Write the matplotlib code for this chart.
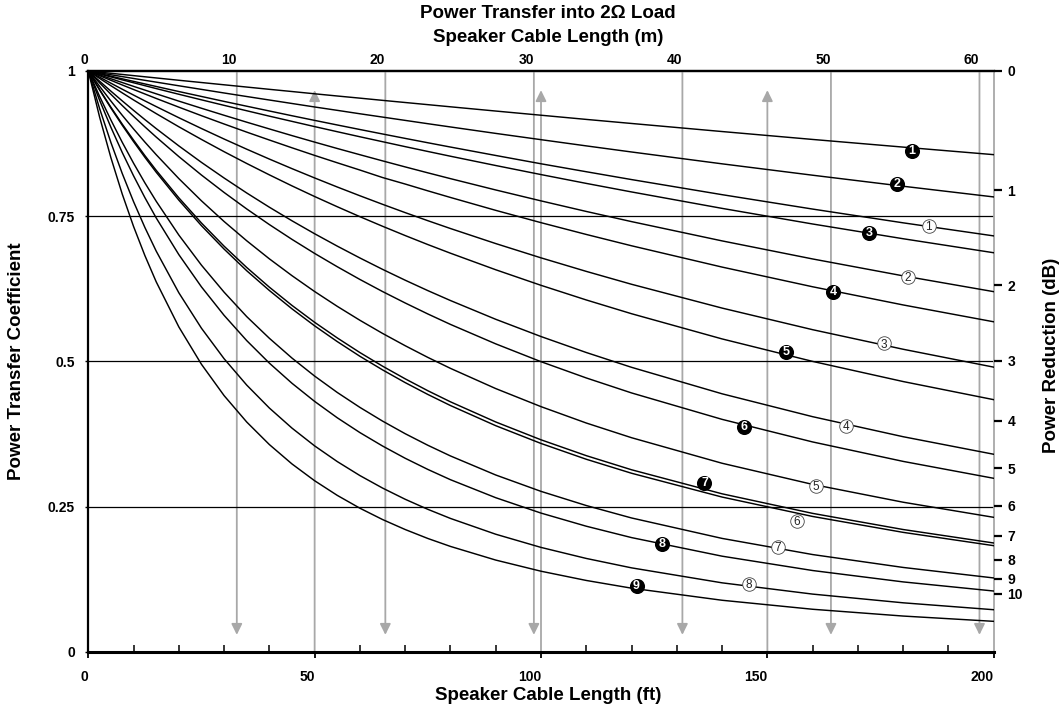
import numpy as np
import matplotlib.pyplot as plt

plt.rcParams['font.family'] = ['Liberation Sans', 'DejaVu Sans']

# cable length (ft) at which each curve was read
length_ft = [0, 2.5, 5, 7.5, 10, 12.5, 15, 20, 25, 30, 35, 40, 45, 50, 55, 60, 65, 70, 75, 80,
             90, 100, 110, 120, 140, 160, 180, 200]

# power transfer coefficient, black-numbered curves
curve_b1 = [1, .9980, .9960, .9940, .9920, .9900, .9880, .9840, .9801, .9762, .9723, .9684, .9646, .9607,
            .9569, .9532, .9494, .9457, .9420, .9383, .9310, .9238, .9166, .9096, .8957, .8821, .8689, .8559]
curve_b2 = [1, .9968, .9935, .9903, .9871, .9839, .9808, .9745, .9683, .9621, .9560, .9500, .9440, .9380,
            .9322, .9263, .9206, .9149, .9092, .9036, .8925, .8817, .8710, .8605, .8401, .8205, .8015, .7831]
curve_b3 = [1, .9949, .9898, .9847, .9797, .9747, .9697, .9599, .9503, .9408, .9315, .9222, .9132, .9042,
            .8954, .8867, .8782, .8697, .8614, .8532, .8372, .8216, .8064, .7917, .7634, .7365, .7111, .6870]
curve_b4 = [1, .9919, .9839, .9759, .9681, .9604, .9527, .9377, .9230, .9087, .8947, .8811, .8677, .8546,
            .8419, .8294, .8165, .8053, .7936, .7822, .7600, .7388, .7185, .6990, .6623, .6284, .5971, .5681]
curve_b5 = [1, .9872, .9746, .9623, .9501, .9383, .9266, .9039, .8821, .8610, .8407, .8211, .8021, .7838,
            .7662, .7491, .7326, .7166, .7011, .6862, .6577, .6309, .6057, .5820, .5386, .4999, .4652, .4340]
curve_b6 = [1, .9796, .9598, .9405, .9219, .9038, .8862, .8526, .8208, .7908, .7624, .7355, .7100, .6858,
            .6629, .6410, .6202, .6005, .5816, .5636, .5301, .4994, .4714, .4456, .4001, .3612, .3277, .2986]
curve_b7 = [1, .9680, .9375, .9085, .8810, .8543, .8290, .7816, .7382, .6983, .6616, .6277, .5963, .5672,
            .5403, .5151, .4917, .4699, .4494, .4303, .3956, .3649, .3376, .3133, .2719, .2382, .2104, .1872]
curve_b8 = [1, .9497, .9030, .8597, .8195, .7820, .7470, .6838, .6282, .5792, .5357, .4969, .4622, .4310,
            .4028, .3773, .3542, .3331, .3139, .2962, .2652, .2387, .2161, .1965, .1645, .1398, .1202, .1045]
curve_b9 = [1, .9207, .8506, .7881, .7323, .6822, .6370, .5593, .4949, .4410, .3955, .3567, .3233, .2944,
            .2692, .2471, .2276, .2104, .1950, .1813, .1578, .1386, .1227, .1094, .0886, .0731, .0614, .0523]

# power transfer coefficient, white-numbered curves
curve_w1 = [1, .9955, .9910, .9865, .9821, .9777, .9733, .9646, .9561, .9476, .9393, .9311, .9229, .9149,
            .9070, .8992, .8915, .8839, .8764, .8690, .8545, .8402, .8265, .8130, .7870, .7622, .7385, .7160]
curve_w2 = [1, .9933, .9866, .9801, .9735, .9671, .9607, .9481, .9358, .9237, .9118, .9002, .8887, .8775,
            .8665, .8558, .8452, .8348, .8246, .8146, .7951, .7763, .7581, .7406, .7074, .6763, .6472, .6200]
curve_w3 = [1, .9894, .9789, .9686, .9585, .9485, .9387, .9195, .9009, .8828, .8653, .8483, .8318, .8158,
            .8002, .7851, .7704, .7561, .7422, .7287, .7028, .6782, .6549, .6327, .5917, .5545, .5208, .4900]
curve_w4 = [1, .9824, .9652, .9485, .9322, .9163, .9008, .8710, .8426, .8157, .7899, .7654, .7420, .7197,
            .6984, .6780, .6584, .6397, .6218, .6047, .5724, .5427, .5152, .4897, .4441, .4047, .3702, .3400]
curve_w5 = [1, .9736, .9482, .9237, .9002, .8776, .8559, .8147, .7764, .7408, .7076, .6765, .6475, .6202,
            .5947, .5707, .5481, .5269, .5068, .4879, .4531, .4220, .3938, .3685, .3245, .2881, .2574, .2314]
curve_w6 = [1, .9673, .9362, .9066, .8784, .8514, .8257, .7776, .7336, .6933, .6560, .6220, .5904, .5611,
            .5340, .5087, .4853, .4634, .4430, .4239, .3892, .3586, .3314, .3073, .2663, .2329, .2055, .1826]
curve_w7 = [1, .9563, .9155, .8772, .8412, .8074, .7757, .7175, .6656, .6191, .5770, .5397, .5056, .4746,
            .4464, .4207, .3971, .3754, .3555, .3371, .3043, .2761, .2517, .2303, .1951, .1673, .1451, .1270]
curve_w8 = [1, .9353, .8768, .8235, .7750, .7306, .6899, .6181, .5570, .5045, .4591, .4196, .3850, .3544,
            .3274, .3033, .2818, .2625, .2452, .2295, .2023, .1796, .1606, .1444, .1186, .0992, .0842, .0723]

# where the number badges sit (ft, coefficient)
badge_b_x = [181.9, 178.6, 172.5, 164.6, 154.1, 144.8, 136.1, 126.8, 121.1]
badge_b_y = [0.862, 0.805, 0.7205, 0.620, 0.5156, 0.3875, 0.290, 0.1855, 0.1126]
badge_w_x = [185.6, 181.1, 175.8, 167.3, 160.7, 156.5, 152.3, 145.9]
badge_w_y = [0.733, 0.645, 0.531, 0.389, 0.286, 0.2256, 0.181, 0.1166]

ft_ticks = [0, 50, 100, 150, 200]
m_ticks = [0, 10, 20, 30, 40, 50, 60]
coef_ticks = [0, 0.25, 0.5, 0.75, 1]
coef_labels = ['0', '0.25', '0.5', '0.75', '1']
db_ticks = [0, 1, 2, 3, 4, 5, 6, 7, 8, 9, 10]

FT_PER_M = 1 / 0.3048
grey = '#a8a8a8'

fig = plt.figure(figsize=(10.61, 7.09), dpi=100)
ax = fig.add_axes([0.0832, 0.0808, 0.8534, 0.8191])
ax.set_xlim(0, 200)
ax.set_ylim(0, 1)

# gray guide lines: metre marks point down, 50 ft marks point up
arrow = dict(arrowstyle='-|>,head_length=0.65,head_width=0.32', color=grey, lw=1.3,
             shrinkA=0, shrinkB=0)
for m in m_ticks[1:]:
    ax.annotate('', xy=(m * FT_PER_M, 0.029), xytext=(m * FT_PER_M, 1), arrowprops=arrow, zorder=1)
for f in ft_ticks[1:-1]:
    ax.annotate('', xy=(f, 0.967), xytext=(f, 0), arrowprops=arrow, zorder=1)

for yv in coef_ticks[1:-1]:
    ax.axhline(yv, color='black', lw=0.9, zorder=2)

all_curves = [curve_b1, curve_b2, curve_b3, curve_b4, curve_b5, curve_b6, curve_b7, curve_b8, curve_b9,
              curve_w1, curve_w2, curve_w3, curve_w4, curve_w5, curve_w6, curve_w7, curve_w8]
for c in all_curves:
    ax.plot(length_ft, c, color='black', lw=1.05, zorder=3, solid_joinstyle='round')

# numbered badges
ax.scatter(badge_b_x, badge_b_y, s=118, color='black', zorder=5, linewidths=0)
for i, (x, y) in enumerate(zip(badge_b_x, badge_b_y)):
    ax.text(x, y, str(i + 1), color='white', fontsize=9, fontweight='bold',
            ha='center', va='center', zorder=6)
ax.scatter(badge_w_x, badge_w_y, s=95, facecolor='white', edgecolor='#444444', linewidths=0.6, zorder=5)
for i, (x, y) in enumerate(zip(badge_w_x, badge_w_y)):
    ax.text(x, y - 0.002, str(i + 1), color='#222222', fontsize=8.5,
            ha='center', va='center', zorder=6)

# spines
for s in ['left', 'bottom', 'top']:
    ax.spines[s].set_color('black')
ax.spines['left'].set_linewidth(1.6)
ax.spines['bottom'].set_linewidth(2.2)
ax.spines['top'].set_linewidth(1.6)
ax.spines['right'].set_color(grey)
ax.spines['right'].set_linewidth(1.3)

# bottom axis (ft)
ax.set_xticks(ft_ticks)
ax.set_xticklabels([str(t) for t in ft_ticks], fontsize=10, fontweight='bold', ha='right')
ax.xaxis.set_minor_locator(plt.FixedLocator([v for v in range(10, 200, 10) if v % 50]))
ax.tick_params(axis='x', which='major', direction='out', length=4, width=1.3, pad=9)
ax.tick_params(axis='x', which='minor', direction='in', length=5.2, width=1.1)

# left axis
ax.set_yticks(coef_ticks)
ax.set_yticklabels(coef_labels, fontsize=10, fontweight='bold')
ax.tick_params(axis='y', direction='out', length=2.5, width=1.0, pad=7)

# top axis (m)
top = ax.secondary_xaxis('top', functions=(lambda x: x / FT_PER_M, lambda m: m * FT_PER_M))
top.set_xticks(m_ticks)
top.set_xticklabels([str(t) for t in m_ticks], fontsize=10, fontweight='bold', ha='right')
top.tick_params(length=0, pad=3)
top.spines['top'].set_linewidth(1.6)

# right axis (dB)
right = ax.twinx()
right.set_ylim(0, 1)
right.set_yticks([10 ** (-d / 10) for d in db_ticks])
right.set_yticklabels([str(d) for d in db_ticks], fontsize=10, fontweight='bold')
right.tick_params(axis='y', direction='out', length=6, width=1.6, pad=4, color='black')
for s in right.spines.values():
    s.set_visible(False)

fs = 13.5
fig.text(548 / 1061, 1 - 13 / 709, 'Power Transfer into 2\u03a9 Load', ha='center', va='center',
         fontsize=fs, fontweight='bold')
fig.text(548 / 1061, 1 - 37.5 / 709, 'Speaker Cable Length (m)', ha='center', va='center',
         fontsize=fs, fontweight='bold')
fig.text(548 / 1061, 1 - 696 / 709, 'Speaker Cable Length (ft)', ha='center', va='center',
         fontsize=fs, fontweight='bold')
fig.text(17 / 1061, 1 - 361 / 709, 'Power Transfer Coefficient', ha='center', va='center',
         rotation=90, fontsize=fs, fontweight='bold')
fig.text(1052 / 1061, 1 - 355 / 709, 'Power Reduction (dB)', ha='center', va='center',
         rotation=90, fontsize=fs, fontweight='bold')

fig.savefig('out.png', dpi=100)
